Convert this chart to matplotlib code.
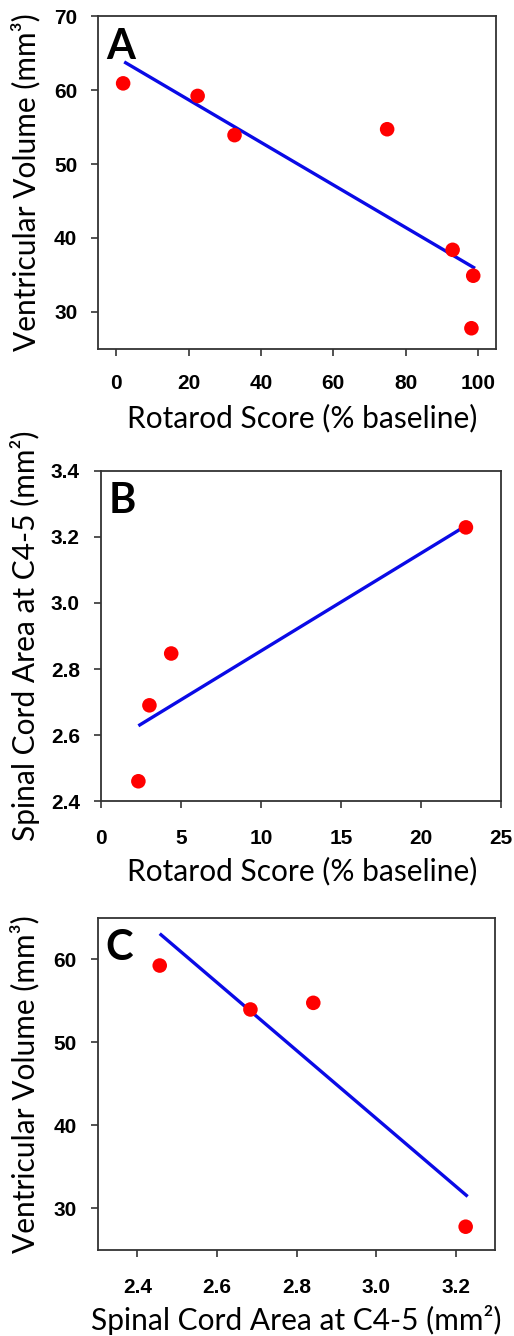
import matplotlib
matplotlib.use("Agg")
import matplotlib.pyplot as plt

# panel A: rotarod vs ventricular volume
rotarod_a = [1.9, 22.5, 32.7, 74.9, 93.0, 98.7, 98.2]
volume_a = [60.9, 59.2, 53.9, 54.7, 38.4, 34.9, 27.8]
fit_a_x = [2.2, 99.2]
fit_a_y = [63.8, 35.9]
xticks_a = [0, 20, 40, 60, 80, 100]
yticks_a = [30, 40, 50, 60, 70]

# panel B: rotarod vs spinal cord area
rotarod_b = [2.35, 3.04, 4.4, 22.8]
area_b = [2.46, 2.69, 2.847, 3.229]
fit_b_x = [2.35, 22.67]
fit_b_y = [2.628, 3.23]
xticks_b = [0, 5, 10, 15, 20, 25]
yticks_b = [2.4, 2.6, 2.8, 3.0, 3.2, 3.4]

# panel C: spinal cord area vs ventricular volume
area_c = [2.456, 2.684, 2.842, 3.225]
volume_c = [59.24, 53.95, 54.75, 27.8]
fit_c_x = [2.456, 3.23]
fit_c_y = [63.08, 31.44]
xticks_c = [2.4, 2.6, 2.8, 3.0, 3.2]
yticks_c = [30, 40, 50, 60]

LABEL_FONT = "Lato"
TICK_FONT = "Liberation Sans"
TICK_KW = dict(fontfamily=TICK_FONT, fontweight="bold", fontsize=15)


def style_axes(ax, xpad, ypad):
    for side in ["left", "bottom", "top", "right"]:
        ax.spines[side].set_linewidth(1.3)
        ax.spines[side].set_color("#333333")
    ax.tick_params(axis="both", direction="out", length=5, width=1.2,
                   top=False, right=False, color="#333333")
    ax.tick_params(axis="x", pad=xpad)
    ax.tick_params(axis="y", pad=ypad)


def draw_panel(ax, x, y, fx, fy, letter, xlabel, ylabel, xticks, yticks, fmt,
               xpad, ypad, ylab_x, xlab_pos):
    ax.plot(fx, fy, color="#0a0ae6", lw=2.4, solid_capstyle="butt", zorder=2)
    ax.scatter(x, y, s=110, color="#ff0000", edgecolors="none", zorder=3)
    ax.text(0.02, 0.965, letter, transform=ax.transAxes, ha="left", va="top",
            fontfamily=LABEL_FONT, fontweight="bold", fontsize=30)
    ax.set_xticks(xticks, [fmt[0].format(v) for v in xticks], **TICK_KW)
    ax.set_yticks(yticks, [fmt[1].format(v) for v in yticks], **TICK_KW)
    ax.set_xlabel(xlabel, fontfamily=LABEL_FONT, fontsize=21.5)
    ax.set_ylabel(ylabel, fontfamily=LABEL_FONT, fontsize=21.5)
    ax.yaxis.set_label_coords(ylab_x, 0.5)
    ax.xaxis.set_label_coords(xlab_pos[0], xlab_pos[1])
    style_axes(ax, xpad, ypad)


fig = plt.figure(figsize=(5.14, 13.36), dpi=100)

ax_a = fig.add_axes([0.191, 0.7388, 0.774, 0.2492])
ax_a.set_xlim(-5, 105)
ax_a.set_ylim(25, 70)
draw_panel(ax_a, rotarod_a, volume_a, fit_a_x, fit_a_y, "A",
           "Rotarod Score (% baseline)", "Ventricular Volume (mm³)",
           xticks_a, yticks_a, ("{:g}", "{:g}"),
           13, 10, -0.146, (0.513, -0.165))

ax_b = fig.add_axes([0.196, 0.4004, 0.779, 0.2471])
ax_b.set_xlim(0, 25)
ax_b.set_ylim(2.4, 3.4)
draw_panel(ax_b, rotarod_b, area_b, fit_b_x, fit_b_y, "B",
           "Rotarod Score (% baseline)", "Spinal Cord Area at C4-5 (mm²)",
           xticks_b, yticks_b, ("{:g}", "{:.1f}"),
           15, 10, -0.152, (0.504, -0.170))

ax_c = fig.add_axes([0.190, 0.0644, 0.774, 0.2487])
ax_c.set_xlim(2.3, 3.3)
ax_c.set_ylim(25, 65)
draw_panel(ax_c, area_c, volume_c, fit_c_x, fit_c_y, "C",
           "Spinal Cord Area at C4-5 (mm²)", "Ventricular Volume (mm³)",
           xticks_c, yticks_c, ("{:.1f}", "{:g}"),
           15, 10, -0.147, (0.498, -0.166))

fig.savefig("out.png", dpi=100)
